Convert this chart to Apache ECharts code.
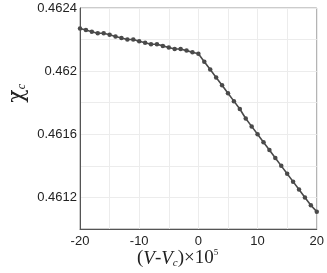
<!DOCTYPE html>
<html><head><meta charset="utf-8">
<script src="https://cdn.jsdelivr.net/npm/echarts@6/dist/echarts.min.js"></script>
<style>html,body{margin:0;padding:0;background:#fff}#c{width:327px;height:273px}</style>
</head><body><div id="c"></div>
<script>
var xValues = [-20,-19,-18,-17,-16,-15,-14,-13,-12,-11,-10,-9,-8,-7,-6,-5,-4,-3,-2,-1,0,1,2,3,4,5,6,7,8,9,10,11,12,13,14,15,16,17,18,19,20];
var chiValues = [0.46227,0.46226,0.46225,0.46224,0.46224,0.46223,0.46222,0.46221,0.46220,0.46220,0.46219,0.46218,0.46217,0.46217,0.46216,0.46215,0.46214,0.46214,0.46213,0.46212,0.46211,
0.46206,0.46201,0.46196,0.46191,0.46186,0.46181,0.46176,0.46170,0.46165,0.46160,0.46155,0.46150,0.46145,0.46140,0.46135,0.46130,0.46125,0.46120,0.46115,0.46111];
var yTickLabels = [0.4612, 0.4616, 0.462, 0.4624];
var xTickLabels = [-20, -10, 0, 10, 20];

var chart = echarts.init(document.getElementById('c'), null, {renderer:'canvas'});
var data = xValues.map(function(x,i){return [x, chiValues[i]];});
chart.setOption({
  animation:false,
  grid:{left:80,right:10,top:8,bottom:44,show:true,borderColor:'#999',borderWidth:1},
  xAxis:{type:'value',min:-20,max:20,interval:5,
    axisLine:{show:true,onZero:false,lineStyle:{color:'#555',width:1}},
    axisTick:{show:false},
    splitLine:{show:true,lineStyle:{color:'#ececec',width:1}},
    axisLabel:{color:'#222',fontSize:13,fontFamily:'Liberation Sans, Arial, sans-serif',margin:6,
      formatter:function(v){return xTickLabels.indexOf(Math.round(v))>=0 ? String(Math.round(v)) : '';}}
  },
  yAxis:{type:'value',min:0.4610,max:0.4624,interval:0.0002,
    axisLine:{show:true,onZero:false,lineStyle:{color:'#555',width:1}},
    axisTick:{show:false},
    splitLine:{show:true,lineStyle:{color:'#ececec',width:1}},
    axisLabel:{color:'#222',fontSize:13,fontFamily:'Liberation Sans, Arial, sans-serif',margin:3,
      formatter:function(v){var r=parseFloat(v.toFixed(4));return yTickLabels.indexOf(r)>=0 ? String(r) : '';}}
  },
  series:[{type:'line',data:data,symbol:'circle',symbolSize:4.5,
    lineStyle:{color:'#4a4a4a',width:1.6},itemStyle:{color:'#4a4a4a'}}],
  graphic:[
    {type:'text',left:6,top:84,rotation:Math.PI/2,style:{
      rich:{a:{fontFamily:'DejaVu Serif, serif',fontSize:22,fill:'#222'},b:{fontFamily:'Liberation Serif, serif',fontStyle:'italic',fontSize:12,fill:'#222',padding:[9,0,0,0]}},
      text:'{a|χ}{b|c}'}},
    {type:'text',left:137,top:248,style:{
      rich:{n:{fontFamily:'Liberation Serif, serif',fontSize:19,fill:'#222'},i:{fontFamily:'Liberation Serif, serif',fontStyle:'italic',fontSize:19,fill:'#222'},s:{fontFamily:'Liberation Serif, serif',fontStyle:'italic',fontSize:11,fill:'#222',padding:[10,0,0,0]},p:{fontFamily:'Liberation Serif, serif',fontSize:9,fill:'#222',padding:[0,0,12,0]}},
      text:'{n|(}{i|V}{n|-}{i|V}{s|c}{n|)×10}{p|5}'}}
  ]
});
</script></body></html>
